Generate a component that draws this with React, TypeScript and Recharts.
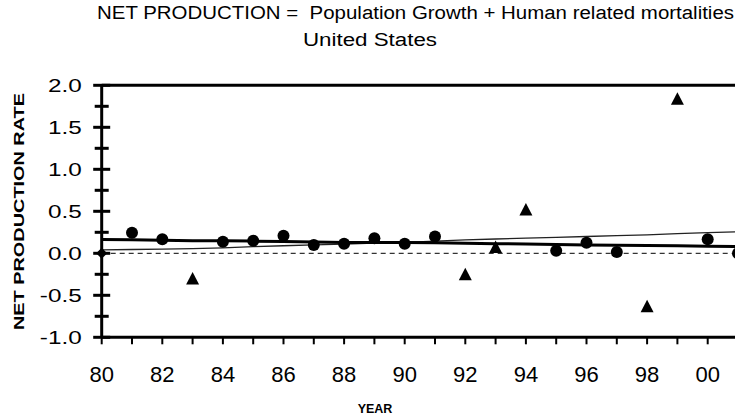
import React from 'react';
import { ComposedChart, Line, Scatter, XAxis, YAxis, ReferenceLine } from 'recharts';

// ---- data ----
const years = [80, 81, 82, 83, 84, 85, 86, 87, 88, 89, 90, 91, 92, 93, 94, 95, 96, 97, 98, 99, 100, 101];
const smoothTrend = [0.165, 0.16, 0.155, 0.15, 0.148, 0.145, 0.14, 0.135, 0.13, 0.13, 0.128, 0.125, 0.12, 0.115, 0.11, 0.105, 0.1, 0.097, 0.093, 0.09, 0.085, 0.08];
const linearTrend = [0.04, 0.045, 0.05, 0.055, 0.065, 0.08, 0.09, 0.1, 0.11, 0.12, 0.13, 0.145, 0.16, 0.17, 0.18, 0.19, 0.2, 0.21, 0.22, 0.235, 0.245, 0.255];

const circleYears = [81, 82, 84, 85, 86, 87, 88, 89, 90, 91, 95, 96, 97, 100, 101];
const circleValues = [0.245, 0.167, 0.138, 0.15, 0.21, 0.1, 0.115, 0.18, 0.115, 0.2, 0.03, 0.125, 0.015, 0.167, 0.0];

const triangleYears = [83, 92, 93, 94, 98, 99];
const triangleValues = [-0.3, -0.25, 0.075, 0.52, -0.63, 1.84];

const diamondYears = [80];
const diamondValues = [0.0];

const yTicks = [-1, -0.75, -0.5, -0.25, 0, 0.25, 0.5, 0.75, 1, 1.25, 1.5, 1.75, 2];
const xTicks = [80, 81, 82, 83, 84, 85, 86, 87, 88, 89, 90, 91, 92, 93, 94, 95, 96, 97, 98, 99, 100];

const titleLine1 = 'NET PRODUCTION =  Population Growth + Human related mortalities';
const titleLine2 = 'United States';
const yLabel = 'NET PRODUCTION RATE';
const xLabel = 'YEAR';

const trendRows = years.map((y, i) => ({ year: y, smooth: smoothTrend[i], linear: linearTrend[i] }));
const circleRows = circleYears.map((y, i) => ({ year: y, value: circleValues[i] }));
const triangleRows = triangleYears.map((y, i) => ({ year: y, value: triangleValues[i] }));
const diamondRows = diamondYears.map((y, i) => ({ year: y, value: diamondValues[i] }));

const FONT = '"Liberation Sans", Arial, sans-serif';

const CircleShape = (p: any) => <circle cx={p.cx} cy={p.cy} r={6} fill="#000" />;
const TriangleShape = (p: any) => (
  <polygon points={`${p.cx},${p.cy - 6.5} ${p.cx + 6.5},${p.cy + 6} ${p.cx - 6.5},${p.cy + 6}`} fill="#000" />
);
const DiamondShape = (p: any) => (
  <polygon points={`${p.cx},${p.cy - 5.5} ${p.cx + 5.5},${p.cy} ${p.cx},${p.cy + 5.5} ${p.cx - 5.5},${p.cy}`} fill="#000" />
);

const YTick = (p: any) => {
  const v = p.payload.value;
  const major = Math.abs(v * 2 - Math.round(v * 2)) < 1e-6;
  const ax = p.x;
  const half = major ? 8.5 : 7;
  return (
    <g>
      <line x1={ax - half} x2={ax + half} y1={p.y} y2={p.y} stroke="#000" strokeWidth={3} />
      {major && (
        <text
          transform={`translate(${ax - 20},${p.y + 6.5}) scale(1.35,1)`}
          textAnchor="end"
          fontFamily={FONT}
          fontSize={18}
          fill="#000"
        >
          {v.toFixed(1)}
        </text>
      )}
    </g>
  );
};

const xFmt = (v: number) => (v % 2 === 0 ? String(v % 100).padStart(2, '0') : '');

export default function App() {
  return (
    <div style={{ position: 'fixed', left: 0, top: 0, width: 735, height: 419, overflow: 'hidden', background: '#fff' }}>
      <ComposedChart
        width={760}
        height={419}
        data={trendRows}
        margin={{ top: 85.3, right: 22, bottom: 21.7, left: 41.7 }}
      >
        <XAxis
          type="number"
          dataKey="year"
          domain={[80, 101]}
          ticks={xTicks}
          interval={0}
          tickFormatter={xFmt}
          axisLine={{ stroke: '#000', strokeWidth: 3 }}
          tickLine={{ stroke: '#000', strokeWidth: 2 }}
          tickSize={7}
          tickMargin={22}
          height={60}
          tick={{ fill: '#000', fontSize: 22, fontFamily: FONT }}
        />
        <YAxis
          type="number"
          domain={[-1, 2]}
          ticks={yTicks}
          interval={0}
          width={60}
          tickSize={0}
          tickMargin={0}
          tickLine={false}
          axisLine={{ stroke: '#000', strokeWidth: 3 }}
          tick={<YTick />}
        />
        <ReferenceLine y={0} stroke="#000" strokeWidth={1} strokeDasharray="5 4" />
        <ReferenceLine y={2} stroke="#000" strokeWidth={3} />
        <Line dataKey="linear" stroke="#222" strokeWidth={1.3} dot={false} isAnimationActive={false} />
        <Line dataKey="smooth" stroke="#000" strokeWidth={3} dot={false} isAnimationActive={false} />
        <Scatter data={circleRows} dataKey="value" shape={<CircleShape />} isAnimationActive={false} />
        <Scatter data={triangleRows} dataKey="value" shape={<TriangleShape />} isAnimationActive={false} />
        <Scatter data={diamondRows} dataKey="value" shape={<DiamondShape />} isAnimationActive={false} />
      </ComposedChart>
      <svg width={735} height={419} style={{ position: 'absolute', left: 0, top: 0, pointerEvents: 'none' }}>
        <text x={97} y={19} textLength={637} lengthAdjust="spacingAndGlyphs" fontFamily={FONT} fontSize={18} fill="#000" style={{ whiteSpace: 'pre' }}>{titleLine1}</text>
        <text x={303} y={46} textLength={134} lengthAdjust="spacingAndGlyphs" fontFamily={FONT} fontSize={18} fill="#000">{titleLine2}</text>
        <text x={375} y={413} textAnchor="middle" fontFamily={FONT} fontSize={12.5} fontWeight="bold" fill="#000">{xLabel}</text>
        <text
          x={0}
          y={0}
          transform="translate(24,330) rotate(-90)"
          textLength={237}
          lengthAdjust="spacingAndGlyphs"
          fontFamily={FONT}
          fontSize={15}
          fontWeight="bold"
          fill="#000"
        >
          {yLabel}
        </text>
      </svg>
    </div>
  );
}
